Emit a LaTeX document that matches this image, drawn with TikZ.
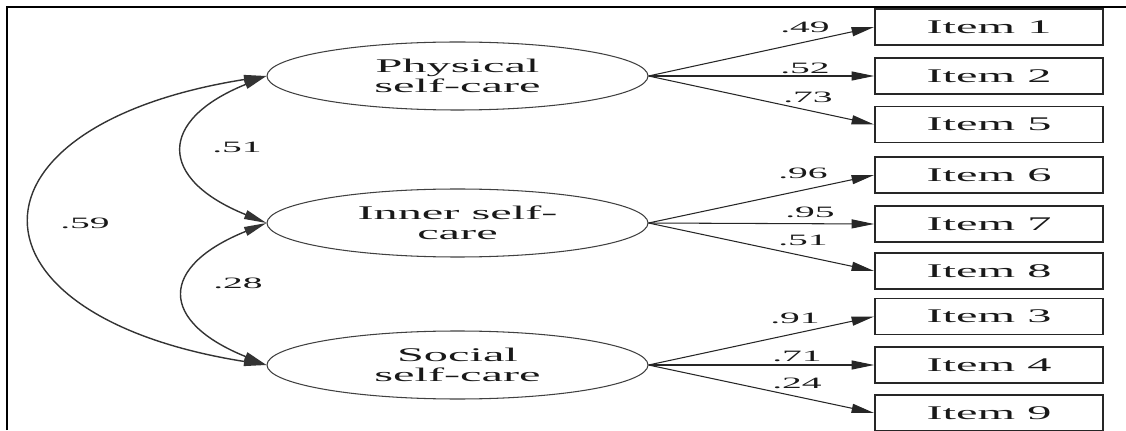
\documentclass[tikz,border=0pt]{standalone}
\usepackage{fontspec}
\setmainfont[FakeStretch=2.5]{Liberation Serif}
\usetikzlibrary{shapes.geometric, arrows.meta}

\begin{document}
\begin{tikzpicture}[
  >={Triangle[length=4.5mm, width=1.8mm]},
  factor/.style={ellipse, draw=black!75, line width=0.6pt, minimum width=7.62cm,
    minimum height=1.36cm, inner sep=0pt, align=center, text=black!90,
    font=\fontsize{11}{11.4}\selectfont},
  item/.style={rectangle, draw=black!85, line width=1pt, minimum width=4.56cm,
    minimum height=0.72cm, inner sep=0pt, text=black!90, font=\fontsize{11}{13}\selectfont},
  coef/.style={inner sep=0pt, text=black!90, font=\fontsize{9}{10}\selectfont},
  load/.style={->, line width=0.6pt, black!85},
  cov/.style={<->, line width=0.8pt, black!80}
]
  \useasboundingbox (0,0) rectangle (22.52,8.6);

  % -- Frame (top and left edge) --
  \draw[line width=1.1pt] (0.14,0) -- (0.14,8.46) -- (22.52,8.46);

  % -- Latent factors --
  \node[factor] (phys) at (9.15, 7.08) {Physical\\self-care};
  \node[factor] (inner) at (9.15, 4.14) {Inner self-\\care};
  \node[factor] (social) at (9.15, 1.30) {Social\\self-care};

  % -- Observed items --
  \node[item] (i1) at (19.78, 8.06) {Item 1};
  \node[item] (i2) at (19.78, 7.08) {Item 2};
  \node[item] (i5) at (19.78, 6.11) {Item 5};
  \node[item] (i6) at (19.78, 5.10) {Item 6};
  \node[item] (i7) at (19.78, 4.12) {Item 7};
  \node[item] (i8) at (19.78, 3.18) {Item 8};
  \node[item] (i3) at (19.78, 2.27) {Item 3};
  \node[item] (i4) at (19.78, 1.30) {Item 4};
  \node[item] (i9) at (19.78, 0.34) {Item 9};

  % -- Loadings --
  \draw[load] (phys.east) -- (i1.west);
  \draw[load] (phys.east) -- (i2.west);
  \draw[load] (phys.east) -- (i5.west);
  \draw[load] (inner.east) -- (i6.west);
  \draw[load] (inner.east) -- (i7.west);
  \draw[load] (inner.east) -- (i8.west);
  \draw[load] (social.east) -- (i3.west);
  \draw[load] (social.east) -- (i4.west);
  \draw[load] (social.east) -- (i9.west);

  \node[coef] (w1) at (16.10, 8.06) {.49};
  \node[coef] (w2) at (16.10, 7.24) {.52};
  \node[coef] (w5) at (16.16, 6.66) {.73};
  \node[coef] (w6) at (16.06, 5.14) {.96};
  \node[coef] (w7) at (16.20, 4.36) {.95};
  \node[coef] (w8) at (16.06, 3.80) {.51};
  \node[coef] (w3) at (15.90, 2.24) {.91};
  \node[coef] (w4) at (15.94, 1.48) {.71};
  \node[coef] (w9) at (15.94, 0.94) {.24};

  % -- Factor correlations --
  \draw[cov] (phys.west) to[out=202, in=158, looseness=2.05] (inner.west);
  \draw[cov] (inner.west) to[out=202, in=158, looseness=2.1] (social.west);
  \draw[cov] (phys.west) to[out=189, in=171, looseness=2.8] (social.west);

  \node[coef] (r12) at (4.74, 5.66) {.51};
  \node[coef] (r23) at (4.76, 2.94) {.28};
  \node[coef] (r13) at (1.70, 4.14) {.59};

\end{tikzpicture}
\end{document}
